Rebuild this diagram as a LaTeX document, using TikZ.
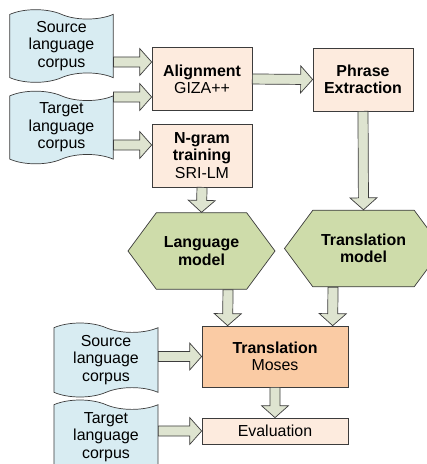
\documentclass[tikz,border=0pt]{standalone}
\usepackage{fontspec}
\setmainfont{Liberation Sans}
\usetikzlibrary{arrows,calc,positioning,shapes,shapes.symbols}
\definecolor{corpusblue}{RGB}{216,236,242}
\definecolor{boxpeach}{RGB}{253,235,222}
\definecolor{mosesorange}{RGB}{250,203,164}
\definecolor{modelgreen}{RGB}{206,220,170}
\definecolor{arrowgreen}{RGB}{222,228,208}
\definecolor{edgegray}{RGB}{60,60,60}
\newcommand{\diagfont}{\fontsize{13.6}{14.8}\selectfont}
\tikzset{%
	corpus/.style     = {draw=edgegray, fill=corpusblue, tape, tape bend top=out and in, tape bend bottom=in and out, tape bend height=8pt, minimum width=3.1cm, minimum height=2.18cm, inner sep=0pt, align=center},
	process/.style    = {draw=edgegray, fill=boxpeach, rectangle, minimum width=3cm, minimum height=1.89cm, inner sep=0pt, align=center},
	model/.style      = {draw=edgegray, fill=modelgreen, signal, signal to=west and east, signal pointer angle=107, minimum height=2.3cm, inner sep=0pt, align=center, font=\diagfont\bfseries},
	blockarrow/.style = {draw=edgegray, fill=arrowgreen, line width=0.6pt,
		to path={let \p1=(\tikztostart), \p2=(\tikztotarget), \n1={atan2(\y2-\y1,\x2-\x1)}, \n2={veclen(\x2-\x1,\y2-\y1)-10.2} in
			{[shift={(\x1,\y1)}, rotate=\n1] (0pt,4.3pt) -- (\n2,4.3pt) -- (\n2,11.5pt) -- ({\n2+10.2pt},0pt) -- (\n2,-11.5pt) -- (\n2,-4.3pt) -- (0pt,-4.3pt) -- cycle}}},
}

\begin{document}
\begin{tikzpicture}[x=0.03cm, y=-0.03cm, line width=0.6pt, font=\diagfont]
		\useasboundingbox (0,0) rectangle (427,464);
		\node[corpus] (src) at (61.5,46) {Source\\language\\corpus};
		\node[corpus] (tgt) at (61.5,127.5) {Target\\language\\corpus};
		\node[process] (align) at (202,79) {\textbf{Alignment}\\GIZA++};
		\node[process] (phrase) at (363,79.5) {\textbf{Phrase}\\\textbf{Extraction}};
		\node[process] (ngram) at (202,155.5) {\textbf{N-gram}\\\textbf{training}\\SRI-LM};
		\node[model, minimum width=4.41cm] (lm) at (201.5,251) {Language\\model};
		\node[model, minimum width=4.74cm] (tm) at (363.5,248.5) {Translation\\model};
		\node[process, fill=mosesorange, minimum width=4.38cm, minimum height=1.83cm] (moses) at (275,356.5) {\textbf{Translation}\\Moses};
		\node[process, minimum width=4.38cm, minimum height=0.78cm] (evl) at (275,431) {Evaluation};
		\node[corpus, minimum width=3.12cm, minimum height=2.22cm] (src2) at (106,360) {Source\\language\\corpus};
		\node[corpus, minimum width=3.12cm, minimum height=2.22cm] (tgt2) at (106,437) {Target\\language\\corpus};

		\draw[blockarrow] (src.east |- 0,62) to (align.west |- 0,62);
		\draw[blockarrow] (tgt.east |- 0,97) to (align.west |- 0,97);
		\draw[blockarrow] (tgt.east |- 0,145) to (ngram.west |- 0,145);
		\draw[blockarrow] (align.east) to (phrase.west);
		\draw[blockarrow] (ngram.south) to (lm.north);
		\draw[blockarrow] (phrase.south) to (tm.north);
		\draw[blockarrow] ($(lm.south)+(26.5,0)$) to ($(moses.north west)+(26,0)$);
		\draw[blockarrow] ($(tm.south)+(-30.5,0)$) to ($(moses.north west)+(131,0)$);
		\draw[blockarrow] (moses.south) to (evl.north);
		\draw[blockarrow] (src2.east |- moses.west) to (moses.west);
		\draw[blockarrow] (tgt2.east |- evl.west) to (evl.west);
		\end{tikzpicture}
\end{document}
